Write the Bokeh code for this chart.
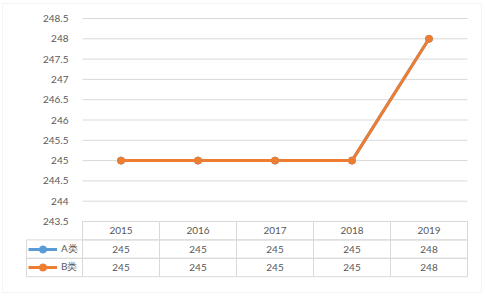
from bokeh.plotting import figure
from bokeh.models import (Range1d, FixedTicker, BoxAnnotation, Legend,
                          LegendItem, ColumnDataSource, NumeralTickFormatter)
from bokeh.embed import file_html
from bokeh.resources import INLINE
from bokeh.core.properties import value

# ---- data ----
years = ["2015", "2016", "2017", "2018", "2019"]
series_names = ["A类", "B类"]
a_values = [245, 245, 245, 245, 248]
b_values = [245, 245, 245, 245, 248]
y_ticks = [243.5, 244.0, 244.5, 245.0, 245.5, 246.0, 246.5, 247.0, 247.5, 248.0, 248.5]
y_tick_labels = ["243.5", "244", "244.5", "245", "245.5", "246", "246.5", "247", "247.5", "248", "248.5"]
colors = ["#5B9BD5", "#ED7D31"]

# ---- layout constants (pixels) ----
W, H = 486, 297
PL, PR, PT, PB = 82, 467, 18, 221      # plot area
ROW_H = 18.4
LEG_L = 26                              # left edge of the legend column of the table
FONT = "Lato"
TXT = "#595959"
GRID = "#D9D9D9"

n = len(years)
xi = [i for i, _ in enumerate(years)]   # category index positions
col_w = (PR - PL) / n
Y_MIN, Y_MAX = y_ticks[0], y_ticks[-1]
ppu = (PB - PT) / (Y_MAX - Y_MIN)
row0 = PB + ROW_H / 2

def xd(px):  # pixel -> index units
    return -0.5 + (px - PL) / col_w

def td(py):  # pixel -> table row units
    return (py - row0) / ROW_H

p = figure(width=W, height=H,
           x_range=Range1d(xd(0), xd(W)),
           y_range=Range1d(Y_MIN - (H - PB) / ppu, Y_MAX + PT / ppu),
           min_border=0, x_axis_location=None,
           output_backend="svg", toolbar_location=None)
p.extra_y_ranges = {"table": Range1d(td(H), td(0))}

p.outline_line_color = None
p.background_fill_color = "white"
p.border_fill_color = "white"
p.xgrid.visible = False
p.ygrid.visible = False

ax = p.yaxis[0]
ax.fixed_location = xd(PL)
ax.ticker = FixedTicker(ticks=y_ticks)
ax.formatter = NumeralTickFormatter(format="0.[0]")
ax.major_label_overrides = dict(zip(y_ticks, y_tick_labels))
ax.axis_line_color = None
ax.major_tick_line_color = None
ax.minor_tick_line_color = None
ax.major_label_text_font = FONT
ax.major_label_text_font_size = "10px"
ax.major_label_text_color = TXT
ax.major_label_standoff = 8

# gridlines across the plot area only
p.segment(x0=xd(PL), x1=xd(PR), y0=y_ticks, y1=y_ticks, line_color=GRID, line_width=1)

# ---- series ----
items = []
for name, vals, color in zip(series_names, [a_values, b_values], colors):
    src = ColumnDataSource(dict(x=xi, y=vals))
    rl = p.line("x", "y", source=src, line_width=3, line_color=color, line_join="round")
    rs = p.scatter("x", "y", source=src, size=7, fill_color=color, line_color=color)
    items.append(LegendItem(label=name, renderers=[rl, rs]))

# ---- data table ----
cell_x, cell_y, cell_t = [], [], []
for r, row in enumerate([years, a_values, b_values]):
    for i, v in zip(xi, row):
        cell_x.append(i)
        cell_y.append(r)
        cell_t.append(str(v))
tsrc = ColumnDataSource(dict(x=cell_x, y=cell_y, t=cell_t))
p.rect("x", "y", width=1, height=1, source=tsrc, y_range_name="table",
       fill_color=None, line_color=GRID, line_width=1)
p.text("x", "y", text="t", source=tsrc, y_range_name="table",
       text_font=value(FONT), text_font_size="10px", text_color=TXT,
       text_align="center", text_baseline="middle")

# legend column cells
leg_w = (PL - LEG_L) / col_w
p.rect(x=xd(PL) - leg_w / 2, y=[1, 2], width=leg_w, height=1, y_range_name="table",
       fill_color=None, line_color=GRID, line_width=1)

legend = Legend(items=items, location=(LEG_L + 2, H - (row0 + 2.5 * ROW_H)),
                padding=0, margin=0, spacing=0, label_height=18, glyph_height=18,
                glyph_width=29, label_standoff=4, border_line_color=None,
                background_fill_alpha=0, label_text_font=FONT, label_text_font_size="10px",
                label_text_color=TXT)
p.add_layout(legend)

# outer chart border
p.add_layout(BoxAnnotation(left=xd(2), right=xd(481), top=td(3), bottom=td(292),
                           y_range_name="table", fill_color=None,
                           line_color=GRID, line_width=1))

open("out.html", "w").write(file_html(p, INLINE))
